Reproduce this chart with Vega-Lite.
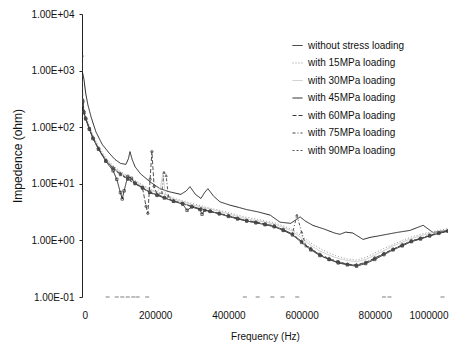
{
  "$schema": "https://vega.github.io/schema/vega-lite/v6.json",
  "autosize": "none",
  "width": 366,
  "height": 283,
  "padding": {"left": 82, "top": 14, "right": 26, "bottom": 50},
  "background": "white",
  "config": {
    "font": "Liberation Sans",
    "view": {"stroke": null},
    "axis": {"labelFont": "Liberation Sans", "titleFont": "Liberation Sans", "labelColor": "#111", "titleColor": "#111", "titleFontWeight": "normal", "grid": false}
  },
  "datasets": {
    "floor": [
      {"f": 70000, "z": 0.1}, {"f": 95000, "z": 0.1}, {"f": 110000, "z": 0.1}, {"f": 125000, "z": 0.1},
      {"f": 140000, "z": 0.1}, {"f": 152000, "z": 0.1}, {"f": 178000, "z": 0.1}, {"f": 445000, "z": 0.1},
      {"f": 480000, "z": 0.1}, {"f": 520000, "z": 0.1}, {"f": 548000, "z": 0.1}, {"f": 588000, "z": 0.1},
      {"f": 825000, "z": 0.1}, {"f": 840000, "z": 0.1}, {"f": 985000, "z": 0.1}
    ],
    "main": [
      {"s": "without stress loading", "f": 2000, "z": 900},
      {"s": "without stress loading", "f": 5500, "z": 690},
      {"s": "without stress loading", "f": 10000, "z": 400},
      {"s": "without stress loading", "f": 16000, "z": 250},
      {"s": "without stress loading", "f": 25000, "z": 150},
      {"s": "without stress loading", "f": 38000, "z": 83},
      {"s": "without stress loading", "f": 55000, "z": 50},
      {"s": "without stress loading", "f": 74000, "z": 35},
      {"s": "without stress loading", "f": 90000, "z": 27},
      {"s": "without stress loading", "f": 105000, "z": 23},
      {"s": "without stress loading", "f": 120000, "z": 22},
      {"s": "without stress loading", "f": 127000, "z": 28},
      {"s": "without stress loading", "f": 131000, "z": 37},
      {"s": "without stress loading", "f": 137000, "z": 27},
      {"s": "without stress loading", "f": 145000, "z": 20},
      {"s": "without stress loading", "f": 160000, "z": 15},
      {"s": "without stress loading", "f": 186000, "z": 10.8},
      {"s": "without stress loading", "f": 213000, "z": 8.2},
      {"s": "without stress loading", "f": 240000, "z": 7.2},
      {"s": "without stress loading", "f": 270000, "z": 6.5},
      {"s": "without stress loading", "f": 285000, "z": 7.5},
      {"s": "without stress loading", "f": 295000, "z": 8.9},
      {"s": "without stress loading", "f": 310000, "z": 6.5},
      {"s": "without stress loading", "f": 325000, "z": 5.5},
      {"s": "without stress loading", "f": 335000, "z": 7},
      {"s": "without stress loading", "f": 344000, "z": 8.2},
      {"s": "without stress loading", "f": 360000, "z": 6},
      {"s": "without stress loading", "f": 377000, "z": 4.8},
      {"s": "without stress loading", "f": 404000, "z": 4.2},
      {"s": "without stress loading", "f": 430000, "z": 3.8},
      {"s": "without stress loading", "f": 450000, "z": 3.5},
      {"s": "without stress loading", "f": 480000, "z": 3.2},
      {"s": "without stress loading", "f": 514000, "z": 2.8},
      {"s": "without stress loading", "f": 541000, "z": 2.1},
      {"s": "without stress loading", "f": 570000, "z": 2.0},
      {"s": "without stress loading", "f": 596000, "z": 2.6},
      {"s": "without stress loading", "f": 610000, "z": 2.2},
      {"s": "without stress loading", "f": 631000, "z": 1.84},
      {"s": "without stress loading", "f": 660000, "z": 1.6},
      {"s": "without stress loading", "f": 690000, "z": 1.35},
      {"s": "without stress loading", "f": 705000, "z": 1.28},
      {"s": "without stress loading", "f": 720000, "z": 1.4},
      {"s": "without stress loading", "f": 740000, "z": 1.35},
      {"s": "without stress loading", "f": 768000, "z": 1.04},
      {"s": "without stress loading", "f": 787000, "z": 1.13},
      {"s": "without stress loading", "f": 810000, "z": 1.2},
      {"s": "without stress loading", "f": 833000, "z": 1.28},
      {"s": "without stress loading", "f": 860000, "z": 1.38},
      {"s": "without stress loading", "f": 896000, "z": 1.5},
      {"s": "without stress loading", "f": 932000, "z": 1.85},
      {"s": "without stress loading", "f": 959000, "z": 1.38},
      {"s": "without stress loading", "f": 980000, "z": 1.45},
      {"s": "without stress loading", "f": 1000000, "z": 1.5},

      {"s": "with 15MPa loading", "f": 2000, "z": 330},
      {"s": "with 15MPa loading", "f": 5000, "z": 210},
      {"s": "with 15MPa loading", "f": 10000, "z": 160},
      {"s": "with 15MPa loading", "f": 20000, "z": 105},
      {"s": "with 15MPa loading", "f": 30000, "z": 72},
      {"s": "with 15MPa loading", "f": 45000, "z": 46},
      {"s": "with 15MPa loading", "f": 65000, "z": 29},
      {"s": "with 15MPa loading", "f": 85000, "z": 21},
      {"s": "with 15MPa loading", "f": 105000, "z": 16.5},
      {"s": "with 15MPa loading", "f": 125000, "z": 13.8},
      {"s": "with 15MPa loading", "f": 145000, "z": 11.5},
      {"s": "with 15MPa loading", "f": 165000, "z": 9.6},
      {"s": "with 15MPa loading", "f": 185000, "z": 8.2},
      {"s": "with 15MPa loading", "f": 205000, "z": 7.2},
      {"s": "with 15MPa loading", "f": 225000, "z": 6.5},
      {"s": "with 15MPa loading", "f": 250000, "z": 5.6},
      {"s": "with 15MPa loading", "f": 275000, "z": 5.0},
      {"s": "with 15MPa loading", "f": 300000, "z": 4.5},
      {"s": "with 15MPa loading", "f": 325000, "z": 4.1},
      {"s": "with 15MPa loading", "f": 350000, "z": 3.7},
      {"s": "with 15MPa loading", "f": 375000, "z": 3.4},
      {"s": "with 15MPa loading", "f": 400000, "z": 3.1},
      {"s": "with 15MPa loading", "f": 425000, "z": 2.8},
      {"s": "with 15MPa loading", "f": 450000, "z": 2.55},
      {"s": "with 15MPa loading", "f": 475000, "z": 2.4},
      {"s": "with 15MPa loading", "f": 500000, "z": 2.2},
      {"s": "with 15MPa loading", "f": 525000, "z": 2.05},
      {"s": "with 15MPa loading", "f": 550000, "z": 1.8},
      {"s": "with 15MPa loading", "f": 575000, "z": 1.55},
      {"s": "with 15MPa loading", "f": 600000, "z": 1.2},
      {"s": "with 15MPa loading", "f": 625000, "z": 0.9},
      {"s": "with 15MPa loading", "f": 650000, "z": 0.72},
      {"s": "with 15MPa loading", "f": 675000, "z": 0.6},
      {"s": "with 15MPa loading", "f": 700000, "z": 0.52},
      {"s": "with 15MPa loading", "f": 725000, "z": 0.47},
      {"s": "with 15MPa loading", "f": 750000, "z": 0.45},
      {"s": "with 15MPa loading", "f": 775000, "z": 0.5},
      {"s": "with 15MPa loading", "f": 800000, "z": 0.6},
      {"s": "with 15MPa loading", "f": 825000, "z": 0.72},
      {"s": "with 15MPa loading", "f": 850000, "z": 0.85},
      {"s": "with 15MPa loading", "f": 875000, "z": 1.0},
      {"s": "with 15MPa loading", "f": 900000, "z": 1.15},
      {"s": "with 15MPa loading", "f": 925000, "z": 1.28},
      {"s": "with 15MPa loading", "f": 950000, "z": 1.4},
      {"s": "with 15MPa loading", "f": 975000, "z": 1.5},
      {"s": "with 15MPa loading", "f": 1000000, "z": 1.62},

      {"s": "with 30MPa loading", "f": 2000, "z": 310},
      {"s": "with 30MPa loading", "f": 5000, "z": 200},
      {"s": "with 30MPa loading", "f": 10000, "z": 150},
      {"s": "with 30MPa loading", "f": 20000, "z": 100},
      {"s": "with 30MPa loading", "f": 30000, "z": 68},
      {"s": "with 30MPa loading", "f": 45000, "z": 44},
      {"s": "with 30MPa loading", "f": 65000, "z": 27},
      {"s": "with 30MPa loading", "f": 85000, "z": 20},
      {"s": "with 30MPa loading", "f": 105000, "z": 15.8},
      {"s": "with 30MPa loading", "f": 125000, "z": 13},
      {"s": "with 30MPa loading", "f": 145000, "z": 11},
      {"s": "with 30MPa loading", "f": 165000, "z": 9.2},
      {"s": "with 30MPa loading", "f": 185000, "z": 7.8},
      {"s": "with 30MPa loading", "f": 205000, "z": 7.0},
      {"s": "with 30MPa loading", "f": 215000, "z": 9},
      {"s": "with 30MPa loading", "f": 221000, "z": 15},
      {"s": "with 30MPa loading", "f": 228000, "z": 6.5},
      {"s": "with 30MPa loading", "f": 250000, "z": 5.4},
      {"s": "with 30MPa loading", "f": 275000, "z": 4.8},
      {"s": "with 30MPa loading", "f": 300000, "z": 4.3},
      {"s": "with 30MPa loading", "f": 325000, "z": 3.9},
      {"s": "with 30MPa loading", "f": 350000, "z": 3.6},
      {"s": "with 30MPa loading", "f": 375000, "z": 3.25},
      {"s": "with 30MPa loading", "f": 400000, "z": 2.95},
      {"s": "with 30MPa loading", "f": 425000, "z": 2.65},
      {"s": "with 30MPa loading", "f": 450000, "z": 2.4},
      {"s": "with 30MPa loading", "f": 475000, "z": 2.25},
      {"s": "with 30MPa loading", "f": 500000, "z": 2.1},
      {"s": "with 30MPa loading", "f": 525000, "z": 1.95},
      {"s": "with 30MPa loading", "f": 550000, "z": 1.7},
      {"s": "with 30MPa loading", "f": 575000, "z": 1.45},
      {"s": "with 30MPa loading", "f": 600000, "z": 1.1},
      {"s": "with 30MPa loading", "f": 625000, "z": 0.82},
      {"s": "with 30MPa loading", "f": 650000, "z": 0.65},
      {"s": "with 30MPa loading", "f": 675000, "z": 0.55},
      {"s": "with 30MPa loading", "f": 700000, "z": 0.48},
      {"s": "with 30MPa loading", "f": 725000, "z": 0.44},
      {"s": "with 30MPa loading", "f": 750000, "z": 0.42},
      {"s": "with 30MPa loading", "f": 775000, "z": 0.46},
      {"s": "with 30MPa loading", "f": 800000, "z": 0.55},
      {"s": "with 30MPa loading", "f": 825000, "z": 0.66},
      {"s": "with 30MPa loading", "f": 850000, "z": 0.8},
      {"s": "with 30MPa loading", "f": 875000, "z": 0.93},
      {"s": "with 30MPa loading", "f": 900000, "z": 1.08},
      {"s": "with 30MPa loading", "f": 925000, "z": 1.2},
      {"s": "with 30MPa loading", "f": 950000, "z": 1.33},
      {"s": "with 30MPa loading", "f": 975000, "z": 1.45},
      {"s": "with 30MPa loading", "f": 1000000, "z": 1.55},

      {"s": "with 45MPa loading", "f": 2000, "z": 280},
      {"s": "with 45MPa loading", "f": 5000, "z": 180},
      {"s": "with 45MPa loading", "f": 10000, "z": 140},
      {"s": "with 45MPa loading", "f": 20000, "z": 92},
      {"s": "with 45MPa loading", "f": 30000, "z": 63},
      {"s": "with 45MPa loading", "f": 45000, "z": 41},
      {"s": "with 45MPa loading", "f": 65000, "z": 25},
      {"s": "with 45MPa loading", "f": 85000, "z": 17},
      {"s": "with 45MPa loading", "f": 95000, "z": 12},
      {"s": "with 45MPa loading", "f": 105000, "z": 7},
      {"s": "with 45MPa loading", "f": 110000, "z": 5.4},
      {"s": "with 45MPa loading", "f": 115000, "z": 7.5},
      {"s": "with 45MPa loading", "f": 125000, "z": 13.5},
      {"s": "with 45MPa loading", "f": 135000, "z": 12.5},
      {"s": "with 45MPa loading", "f": 145000, "z": 10.2},
      {"s": "with 45MPa loading", "f": 165000, "z": 8.5},
      {"s": "with 45MPa loading", "f": 185000, "z": 7.1},
      {"s": "with 45MPa loading", "f": 205000, "z": 6.3},
      {"s": "with 45MPa loading", "f": 225000, "z": 5.6},
      {"s": "with 45MPa loading", "f": 250000, "z": 4.9},
      {"s": "with 45MPa loading", "f": 275000, "z": 4.4},
      {"s": "with 45MPa loading", "f": 287000, "z": 3.4},
      {"s": "with 45MPa loading", "f": 300000, "z": 3.9},
      {"s": "with 45MPa loading", "f": 322000, "z": 3.5},
      {"s": "with 45MPa loading", "f": 328000, "z": 2.9},
      {"s": "with 45MPa loading", "f": 335000, "z": 3.4},
      {"s": "with 45MPa loading", "f": 350000, "z": 3.25},
      {"s": "with 45MPa loading", "f": 375000, "z": 2.95},
      {"s": "with 45MPa loading", "f": 400000, "z": 2.65},
      {"s": "with 45MPa loading", "f": 425000, "z": 2.4},
      {"s": "with 45MPa loading", "f": 450000, "z": 2.2},
      {"s": "with 45MPa loading", "f": 475000, "z": 2.05},
      {"s": "with 45MPa loading", "f": 500000, "z": 1.9},
      {"s": "with 45MPa loading", "f": 525000, "z": 1.75},
      {"s": "with 45MPa loading", "f": 550000, "z": 1.5},
      {"s": "with 45MPa loading", "f": 575000, "z": 1.25},
      {"s": "with 45MPa loading", "f": 600000, "z": 0.92},
      {"s": "with 45MPa loading", "f": 625000, "z": 0.68},
      {"s": "with 45MPa loading", "f": 650000, "z": 0.54},
      {"s": "with 45MPa loading", "f": 675000, "z": 0.46},
      {"s": "with 45MPa loading", "f": 700000, "z": 0.4},
      {"s": "with 45MPa loading", "f": 725000, "z": 0.37},
      {"s": "with 45MPa loading", "f": 750000, "z": 0.35},
      {"s": "with 45MPa loading", "f": 775000, "z": 0.39},
      {"s": "with 45MPa loading", "f": 800000, "z": 0.46},
      {"s": "with 45MPa loading", "f": 825000, "z": 0.56},
      {"s": "with 45MPa loading", "f": 850000, "z": 0.68},
      {"s": "with 45MPa loading", "f": 875000, "z": 0.8},
      {"s": "with 45MPa loading", "f": 900000, "z": 0.95},
      {"s": "with 45MPa loading", "f": 925000, "z": 1.06},
      {"s": "with 45MPa loading", "f": 950000, "z": 1.2},
      {"s": "with 45MPa loading", "f": 975000, "z": 1.33},
      {"s": "with 45MPa loading", "f": 1000000, "z": 1.45},

      {"s": "with 60MPa loading", "f": 0, "z": 1800},
      {"s": "with 60MPa loading", "f": 2000, "z": 300},
      {"s": "with 60MPa loading", "f": 5000, "z": 190},
      {"s": "with 60MPa loading", "f": 10000, "z": 145},
      {"s": "with 60MPa loading", "f": 20000, "z": 96},
      {"s": "with 60MPa loading", "f": 30000, "z": 65},
      {"s": "with 60MPa loading", "f": 45000, "z": 42},
      {"s": "with 60MPa loading", "f": 65000, "z": 26},
      {"s": "with 60MPa loading", "f": 85000, "z": 19},
      {"s": "with 60MPa loading", "f": 105000, "z": 15},
      {"s": "with 60MPa loading", "f": 125000, "z": 12.3},
      {"s": "with 60MPa loading", "f": 145000, "z": 10.3},
      {"s": "with 60MPa loading", "f": 165000, "z": 8.6},
      {"s": "with 60MPa loading", "f": 175000, "z": 4},
      {"s": "with 60MPa loading", "f": 180000, "z": 3},
      {"s": "with 60MPa loading", "f": 186000, "z": 12},
      {"s": "with 60MPa loading", "f": 191000, "z": 37},
      {"s": "with 60MPa loading", "f": 197000, "z": 9},
      {"s": "with 60MPa loading", "f": 205000, "z": 6.5},
      {"s": "with 60MPa loading", "f": 225000, "z": 5.8},
      {"s": "with 60MPa loading", "f": 250000, "z": 5.0},
      {"s": "with 60MPa loading", "f": 275000, "z": 4.5},
      {"s": "with 60MPa loading", "f": 300000, "z": 4.0},
      {"s": "with 60MPa loading", "f": 325000, "z": 3.6},
      {"s": "with 60MPa loading", "f": 350000, "z": 3.3},
      {"s": "with 60MPa loading", "f": 375000, "z": 3.0},
      {"s": "with 60MPa loading", "f": 400000, "z": 2.75},
      {"s": "with 60MPa loading", "f": 425000, "z": 2.45},
      {"s": "with 60MPa loading", "f": 450000, "z": 2.25},
      {"s": "with 60MPa loading", "f": 475000, "z": 2.1},
      {"s": "with 60MPa loading", "f": 500000, "z": 1.95},
      {"s": "with 60MPa loading", "f": 525000, "z": 1.8},
      {"s": "with 60MPa loading", "f": 550000, "z": 1.55},
      {"s": "with 60MPa loading", "f": 575000, "z": 1.3},
      {"s": "with 60MPa loading", "f": 600000, "z": 0.95},
      {"s": "with 60MPa loading", "f": 625000, "z": 0.7},
      {"s": "with 60MPa loading", "f": 650000, "z": 0.56},
      {"s": "with 60MPa loading", "f": 675000, "z": 0.47},
      {"s": "with 60MPa loading", "f": 700000, "z": 0.42},
      {"s": "with 60MPa loading", "f": 725000, "z": 0.38},
      {"s": "with 60MPa loading", "f": 750000, "z": 0.37},
      {"s": "with 60MPa loading", "f": 775000, "z": 0.41},
      {"s": "with 60MPa loading", "f": 800000, "z": 0.49},
      {"s": "with 60MPa loading", "f": 825000, "z": 0.59},
      {"s": "with 60MPa loading", "f": 850000, "z": 0.7},
      {"s": "with 60MPa loading", "f": 875000, "z": 0.83},
      {"s": "with 60MPa loading", "f": 900000, "z": 0.98},
      {"s": "with 60MPa loading", "f": 925000, "z": 1.08},
      {"s": "with 60MPa loading", "f": 950000, "z": 1.22},
      {"s": "with 60MPa loading", "f": 975000, "z": 1.36},
      {"s": "with 60MPa loading", "f": 1000000, "z": 1.48},

      {"s": "with 75MPa loading", "f": 2000, "z": 290},
      {"s": "with 75MPa loading", "f": 5000, "z": 185},
      {"s": "with 75MPa loading", "f": 10000, "z": 142},
      {"s": "with 75MPa loading", "f": 20000, "z": 93},
      {"s": "with 75MPa loading", "f": 30000, "z": 64},
      {"s": "with 75MPa loading", "f": 45000, "z": 41},
      {"s": "with 75MPa loading", "f": 65000, "z": 25.5},
      {"s": "with 75MPa loading", "f": 85000, "z": 18.5},
      {"s": "with 75MPa loading", "f": 105000, "z": 14.5},
      {"s": "with 75MPa loading", "f": 125000, "z": 12},
      {"s": "with 75MPa loading", "f": 145000, "z": 10},
      {"s": "with 75MPa loading", "f": 165000, "z": 8.4},
      {"s": "with 75MPa loading", "f": 185000, "z": 7},
      {"s": "with 75MPa loading", "f": 205000, "z": 6.2},
      {"s": "with 75MPa loading", "f": 218000, "z": 7},
      {"s": "with 75MPa loading", "f": 224000, "z": 16},
      {"s": "with 75MPa loading", "f": 230000, "z": 14},
      {"s": "with 75MPa loading", "f": 236000, "z": 6},
      {"s": "with 75MPa loading", "f": 250000, "z": 4.9},
      {"s": "with 75MPa loading", "f": 275000, "z": 4.4},
      {"s": "with 75MPa loading", "f": 300000, "z": 3.95},
      {"s": "with 75MPa loading", "f": 325000, "z": 3.55},
      {"s": "with 75MPa loading", "f": 350000, "z": 3.25},
      {"s": "with 75MPa loading", "f": 375000, "z": 2.95},
      {"s": "with 75MPa loading", "f": 400000, "z": 2.7},
      {"s": "with 75MPa loading", "f": 425000, "z": 2.4},
      {"s": "with 75MPa loading", "f": 450000, "z": 2.2},
      {"s": "with 75MPa loading", "f": 475000, "z": 2.05},
      {"s": "with 75MPa loading", "f": 500000, "z": 1.9},
      {"s": "with 75MPa loading", "f": 525000, "z": 1.75},
      {"s": "with 75MPa loading", "f": 550000, "z": 1.5},
      {"s": "with 75MPa loading", "f": 575000, "z": 1.3},
      {"s": "with 75MPa loading", "f": 587000, "z": 2.8},
      {"s": "with 75MPa loading", "f": 600000, "z": 1.4},
      {"s": "with 75MPa loading", "f": 612000, "z": 0.8},
      {"s": "with 75MPa loading", "f": 625000, "z": 0.72},
      {"s": "with 75MPa loading", "f": 650000, "z": 0.55},
      {"s": "with 75MPa loading", "f": 675000, "z": 0.46},
      {"s": "with 75MPa loading", "f": 700000, "z": 0.41},
      {"s": "with 75MPa loading", "f": 725000, "z": 0.38},
      {"s": "with 75MPa loading", "f": 750000, "z": 0.36},
      {"s": "with 75MPa loading", "f": 775000, "z": 0.4},
      {"s": "with 75MPa loading", "f": 800000, "z": 0.48},
      {"s": "with 75MPa loading", "f": 825000, "z": 0.58},
      {"s": "with 75MPa loading", "f": 850000, "z": 0.7},
      {"s": "with 75MPa loading", "f": 875000, "z": 0.82},
      {"s": "with 75MPa loading", "f": 900000, "z": 0.97},
      {"s": "with 75MPa loading", "f": 925000, "z": 1.07},
      {"s": "with 75MPa loading", "f": 950000, "z": 1.21},
      {"s": "with 75MPa loading", "f": 975000, "z": 1.35},
      {"s": "with 75MPa loading", "f": 1000000, "z": 1.47},

      {"s": "with 90MPa loading", "f": 2000, "z": 295},
      {"s": "with 90MPa loading", "f": 5000, "z": 188},
      {"s": "with 90MPa loading", "f": 10000, "z": 143},
      {"s": "with 90MPa loading", "f": 20000, "z": 94},
      {"s": "with 90MPa loading", "f": 30000, "z": 64},
      {"s": "with 90MPa loading", "f": 45000, "z": 42},
      {"s": "with 90MPa loading", "f": 65000, "z": 26},
      {"s": "with 90MPa loading", "f": 85000, "z": 19},
      {"s": "with 90MPa loading", "f": 105000, "z": 14.8},
      {"s": "with 90MPa loading", "f": 125000, "z": 12.2},
      {"s": "with 90MPa loading", "f": 145000, "z": 10.2},
      {"s": "with 90MPa loading", "f": 165000, "z": 8.6},
      {"s": "with 90MPa loading", "f": 185000, "z": 7.2},
      {"s": "with 90MPa loading", "f": 205000, "z": 6.4},
      {"s": "with 90MPa loading", "f": 225000, "z": 5.7},
      {"s": "with 90MPa loading", "f": 250000, "z": 5.0},
      {"s": "with 90MPa loading", "f": 275000, "z": 4.5},
      {"s": "with 90MPa loading", "f": 300000, "z": 4.0},
      {"s": "with 90MPa loading", "f": 325000, "z": 3.6},
      {"s": "with 90MPa loading", "f": 350000, "z": 3.3},
      {"s": "with 90MPa loading", "f": 375000, "z": 3.0},
      {"s": "with 90MPa loading", "f": 400000, "z": 2.72},
      {"s": "with 90MPa loading", "f": 425000, "z": 2.45},
      {"s": "with 90MPa loading", "f": 450000, "z": 2.25},
      {"s": "with 90MPa loading", "f": 475000, "z": 2.1},
      {"s": "with 90MPa loading", "f": 500000, "z": 1.95},
      {"s": "with 90MPa loading", "f": 525000, "z": 1.8},
      {"s": "with 90MPa loading", "f": 550000, "z": 1.55},
      {"s": "with 90MPa loading", "f": 575000, "z": 1.3},
      {"s": "with 90MPa loading", "f": 600000, "z": 0.97},
      {"s": "with 90MPa loading", "f": 625000, "z": 0.72},
      {"s": "with 90MPa loading", "f": 650000, "z": 0.57},
      {"s": "with 90MPa loading", "f": 675000, "z": 0.48},
      {"s": "with 90MPa loading", "f": 700000, "z": 0.42},
      {"s": "with 90MPa loading", "f": 725000, "z": 0.38},
      {"s": "with 90MPa loading", "f": 750000, "z": 0.36},
      {"s": "with 90MPa loading", "f": 775000, "z": 0.4},
      {"s": "with 90MPa loading", "f": 800000, "z": 0.48},
      {"s": "with 90MPa loading", "f": 825000, "z": 0.58},
      {"s": "with 90MPa loading", "f": 850000, "z": 0.7},
      {"s": "with 90MPa loading", "f": 875000, "z": 0.84},
      {"s": "with 90MPa loading", "f": 900000, "z": 0.99},
      {"s": "with 90MPa loading", "f": 925000, "z": 1.1},
      {"s": "with 90MPa loading", "f": 950000, "z": 1.24},
      {"s": "with 90MPa loading", "f": 975000, "z": 1.37},
      {"s": "with 90MPa loading", "f": 1000000, "z": 1.5}
    ]
  },
  "resolve": {"legend": {"color": "independent", "shape": "independent", "strokeDash": "independent"}},
  "layer": [
    {
      "data": {"name": "main"},
      "mark": {"type": "line", "strokeWidth": 0.9, "clip": true},
      "encoding": {
        "x": {"field": "f", "type": "quantitative", "scale": {"domain": [0, 1000000], "nice": false},
          "axis": {"title": "Frequency (Hz)", "values": [0, 200000, 400000, 600000, 800000, 1000000], "format": "d", "domain": false, "ticks": false, "labelPadding": 13, "labelFontSize": 10, "titleFontSize": 10, "titlePadding": 11}},
        "y": {"field": "z", "type": "quantitative", "scale": {"type": "log", "domain": [0.1, 10000], "nice": false},
          "axis": {"title": "Impedence (ohm)", "values": [0.1, 1, 10, 100, 1000, 10000],
            "labelExpr": "datum.value < 1 ? '1.00E-01' : '1.00E+0' + format(log(datum.value)/LN10, '.0f')",
            "domainColor": "#222", "tickColor": "#222", "tickSize": 3, "labelPadding": 5, "labelFontSize": 10, "titleFontSize": 12, "titlePadding": 6}},
        "color": {"field": "s", "type": "nominal",
          "scale": {"domain": ["without stress loading", "with 15MPa loading", "with 30MPa loading", "with 45MPa loading", "with 60MPa loading", "with 75MPa loading", "with 90MPa loading"],
            "range": ["#111111", "#8c8c8c", "#c4c4c4", "#1a1a1a", "#3a3a3a", "#444444", "#555555"]},
          "legend": {"orient": "none", "legendX": 210, "legendY": 26, "title": null, "padding": 0, "labelFontSize": 10, "labelColor": "#111", "labelFont": "Liberation Sans", "symbolStrokeWidth": 1, "symbolSize": 100, "rowPadding": 6.5, "labelOffset": 5}},
        "strokeDash": {"field": "s", "type": "nominal",
          "scale": {"domain": ["without stress loading", "with 15MPa loading", "with 30MPa loading", "with 45MPa loading", "with 60MPa loading", "with 75MPa loading", "with 90MPa loading"],
            "range": [[1, 0], [1, 2], [1, 0], [1, 0], [4, 2], [3, 2, 1, 2], [2, 2]]},
          "legend": {"orient": "none", "legendX": 210, "legendY": 26, "title": null, "padding": 0, "labelFontSize": 10, "labelColor": "#111", "labelFont": "Liberation Sans", "symbolStrokeWidth": 1, "symbolSize": 100, "rowPadding": 6.5, "labelOffset": 5}}
      }
    },
    {
      "data": {"name": "main"},
      "transform": [{"filter": {"field": "s", "oneOf": ["with 45MPa loading", "with 60MPa loading", "with 75MPa loading", "with 90MPa loading"]}}],
      "mark": {"type": "point", "size": 6, "strokeWidth": 0.7, "clip": true, "opacity": 0.9},
      "encoding": {
        "x": {"field": "f", "type": "quantitative"},
        "y": {"field": "z", "type": "quantitative"},
        "color": {"field": "s", "type": "nominal", "legend": null},
        "shape": {"field": "s", "type": "nominal", "legend": null,
          "scale": {"domain": ["with 45MPa loading", "with 60MPa loading", "with 75MPa loading", "with 90MPa loading"], "range": ["square", "cross", "triangle-up", "cross"]}}
      }
    },
    {
      "data": {"name": "floor"},
      "mark": {"type": "tick", "orient": "horizontal", "size": 4, "thickness": 1, "color": "#444"},
      "encoding": {
        "x": {"field": "f", "type": "quantitative"},
        "y": {"field": "z", "type": "quantitative"}
      }
    }
  ]
}
